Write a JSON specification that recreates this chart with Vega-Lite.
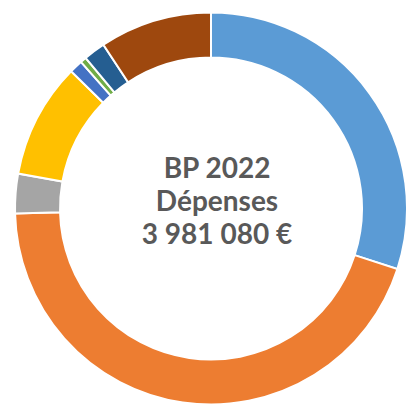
{
  "$schema": "https://vega.github.io/schema/vega-lite/v6.json",
  "width": 422,
  "height": 417,
  "padding": 0,
  "autosize": {"type": "none"},
  "background": "white",
  "config": {"view": {"stroke": null}},
  "layer": [
    {
      "data": {"values": [
        {"rang": 1, "poste": "Charges à caractère général", "part": 30.0},
        {"rang": 2, "poste": "Charges de personnel", "part": 44.6},
        {"rang": 3, "poste": "Atténuations de produits", "part": 3.25},
        {"rang": 4, "poste": "Autres charges de gestion courante", "part": 9.5},
        {"rang": 5, "poste": "Charges financières", "part": 1.1},
        {"rang": 6, "poste": "Charges exceptionnelles", "part": 0.5},
        {"rang": 7, "poste": "Dotations aux amortissements", "part": 1.8},
        {"rang": 8, "poste": "Virement à la section d'investissement", "part": 9.25}
      ]},
      "mark": {"type": "arc", "outerRadius": 196, "innerRadius": 151, "stroke": "white", "strokeWidth": 2},
      "encoding": {
        "theta": {"field": "part", "type": "quantitative", "stack": true},
        "order": {"field": "rang", "type": "quantitative"},
        "color": {
          "field": "poste",
          "type": "nominal",
          "scale": {
            "domain": ["Charges à caractère général", "Charges de personnel", "Atténuations de produits", "Autres charges de gestion courante", "Charges financières", "Charges exceptionnelles", "Dotations aux amortissements", "Virement à la section d'investissement"],
            "range": ["#5B9BD5", "#ED7D31", "#A5A5A5", "#FFC000", "#4472C4", "#70AD47", "#255E91", "#9E480E"]
          },
          "legend": null
        }
      }
    },
    {
      "data": {"values": [{"titre": "BP 2022\nDépenses\n3 981 080 €"}]},
      "mark": {"type": "text", "font": "Lato", "fontWeight": "bold", "fontSize": 28, "color": "#595959", "lineBreak": "\n", "lineHeight": 33, "baseline": "middle", "align": "center", "dy": -39, "dx": 6},
      "encoding": {"text": {"field": "titre", "type": "nominal"}}
    }
  ]
}
